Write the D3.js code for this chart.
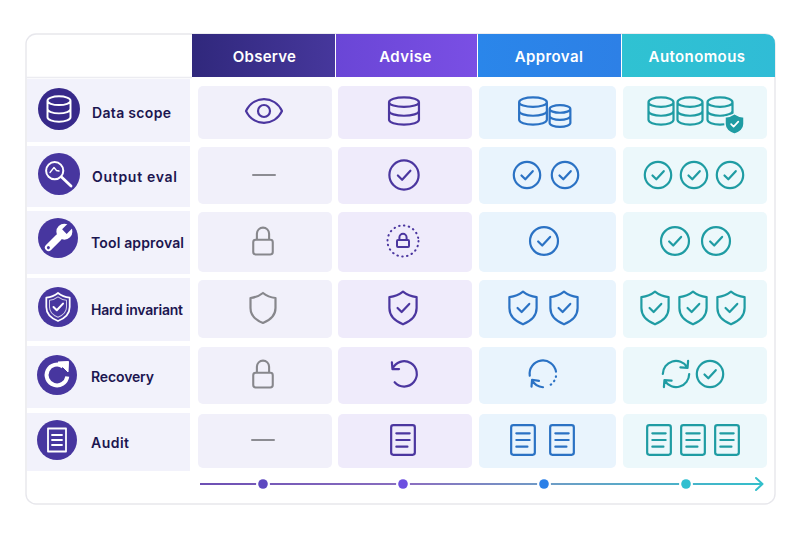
<!DOCTYPE html>
<html><head><meta charset="utf-8">
<script src="https://cdnjs.cloudflare.com/ajax/libs/d3/7.8.5/d3.min.js"></script>
<style>html,body{margin:0;padding:0;background:#fff}svg{display:block}text{font-family:Inter,"Noto Sans",sans-serif}</style>
</head><body><svg id="c" width="800" height="533"></svg>
<script>
// ---- data ----
const stages = ["Observe","Advise","Approval","Autonomous"];
const dimensions = ["Data scope","Output eval","Tool approval","Hard invariant","Recovery","Audit"];
const dimensionIcons = ["dbW","searchW","wrenchW","shieldW","refreshW","docW"];
const dataScope    = [["eye"],["db"],["dbMid","dbSmall"],["dbNarrow","dbNarrow","dbNarrow","badge"]];
const outputEval   = [["dash"],["checkXL"],["check","check"],["check","check","check"]];
const toolApproval = [["lock"],["dottedLock"],["checkLarge"],["checkLarge","checkLarge"]];
const hardInvariant= [["shieldPlain"],["shield"],["shield","shield"],["shield","shield","shield"]];
const recovery     = [["lock"],["undo"],["partialSync"],["sync","check"]];
const audit        = [["dash"],["doc"],["doc","doc"],["doc","doc","doc"]];
const grid = [dataScope,outputEval,toolApproval,hardInvariant,recovery,audit];

// ---- layout ----
const colL=[192,336,478,622], colR=[335,477,621,775];
const cellL=[198,338,479,623], cellR=[332,472,616,767];
const rowT=[79,146,211,278,346,413], rowB=[142,207,274,341,408,471];
const cellT=[86,147,212,280,347,414], cellB=[139,204,272,338,404,468];
const iconY=[111,175,241,308,374,440];
const dotX=[263,403,544,686];
const discX=[59,59,58,58,57,57], discY=[109,174,238,307,375,440], discR=[21,21,20,20,20,20];
const labelX=[92,92,91,91,91,91], labelY=[118,182,248,315,382,448], labelW=[79,85,93,92,63,38];
const xByCount={ // icon centres per row,col
 0:[[264],[404],[533,560],[661,690,720,734.5]],
 1:[[264],[404],[527,565],[658,694,730]],
 2:[[263],[403],[544],[675,716]],
 3:[[263],[403],[523,564],[655,693,731]],
 4:[[263],[404],[543],[676,710]],
 5:[[263],[403],[523,562],[659,693,727]]};
const iconScale={eye:1.5,db:1.36,dbMid:1.36,dbNarrow:1.36,dbSmall:1.08,badge:1,dash:1,check:1.2,checkLarge:1.27,checkXL:1.33,dottedLock:1,lock:1.22,shield:1.36,shieldPlain:1.25,doc:1.48,undo:1.1,partialSync:1.15,sync:1.1};
const colColor=["#4b369f","#4b369f","#2b72c4","#1f9ca3"];
const cellFill=["#f1f0fa","#efebfb","#e9f4fd","#ecf8fb"];
const headStops=[["#30287c","#46379c"],["#6a46d6","#7a4fe4"],["#2a86ea","#2d80e6"],["#2fc2d2","#30bcd6"]];

const svg=d3.select("#c"), defs=svg.append("defs");
const x0=d3.scaleOrdinal(stages,colL), x1=d3.scaleOrdinal(stages,colR);
const y0=d3.scaleOrdinal(dimensions,rowT), y1=d3.scaleOrdinal(dimensions,rowB);

function P(g,d,c,sw,extra){const p=g.append("path").attr("d",d).attr("fill","none").attr("stroke",c).attr("stroke-width",sw)
  .attr("stroke-linecap","round").attr("stroke-linejoin","round");if(extra)p.attr("stroke-dasharray",extra);return p;}
const SHIELD="M0,-12 C2.5,-10 6,-8.5 10,-8 V0 C10,6 5,10 0,12 C-5,10 -10,6 -10,0 V-8 C-6,-8.5 -2.5,-10 0,-12Z";
const dbPath=(w,h=6.5,ry=3.5)=>`M${-w},${-h} A${w},${ry} 0 1 1 ${w},${-h} A${w},${ry} 0 1 1 ${-w},${-h} V${h} A${w},${ry} 0 0 0 ${w},${h} V${-h} M${-w},0 A${w},${ry} 0 0 0 ${w},0`;
const checkGlyph=(g,c,s)=>{g.append("circle").attr("r",11).attr("fill","none").attr("stroke",c).attr("stroke-width",s);P(g,"M-4.6,0.4 L-1.4,3.6 L4.8,-3.2",c,s);};
const glyphs={
 eye(g,c,s){P(g,"M-12,0 C-7,-10.5 7,-10.5 12,0 C7,10.5 -7,10.5 -12,0Z",c,s);g.append("circle").attr("r",4).attr("fill","none").attr("stroke",c).attr("stroke-width",s);},
 db(g,c,s){P(g,dbPath(11),c,s);},
 dbMid(g,c,s){P(g,dbPath(10.2),c,s);},
 dbNarrow(g,c,s){P(g,dbPath(9.2),c,s);},
 dbSmall(g,c,s){P(g,dbPath(9.6),c,s);},
 check:checkGlyph, checkLarge:checkGlyph, checkXL:checkGlyph,
 dash(g,c,s){P(g,"M-11,0 H11","#8c8c92",s*0.9);},
 lock(g,c,s){P(g,"M-8,1 Q-8,-1 -6,-1 H6 Q8,-1 8,1 V9 Q8,11 6,11 H-6 Q-8,11 -8,9Z M-5,-1 V-6 A5,5 0 0 1 5,-6 V-1","#87878c",s*0.95);},
 dottedLock(g,c,s){g.append("circle").attr("r",15.5).attr("fill","none").attr("stroke",c).attr("stroke-width",2).attr("stroke-linecap","round").attr("stroke-dasharray","0.5 4.4");
   P(g,"M-6,0 Q-6,-1 -5,-1 H5 Q6,-1 6,0 V5 Q6,6 5,6 H-5 Q-6,6 -6,5Z M-3.6,-1 V-3.6 A3.6,3.6 0 0 1 3.6,-3.6 V-1",c,2);},
 shield(g,c,s){P(g,SHIELD,c,s);P(g,"M-4,0 L-1,3 L4.6,-3",c,s);},
 shieldPlain(g,c,s){P(g,SHIELD,"#87878c",s);},
 doc(g,c,s){P(g,"M-6.5,-10 H6.5 Q8,-10 8,-8.5 V8.5 Q8,10 6.5,10 H-6.5 Q-8,10 -8,8.5 V-8.5 Q-8,-10 -6.5,-10Z M-4.5,-4.5 H4.5 M-4.5,0 H4.5 M-4.5,4.5 H3",c,s);},
 undo(g,c,s){P(g,"M-10.5,-4.5 A11.5,11.5 0 1 1 -8.5,7.5 M-11,-10.5 L-10.5,-4.5 L-4.5,-4.5",c,s);},
 partialSync(g,c,s){P(g,"M-11.5,1.5 A11.5,11.5 0 0 1 11.3,-2",c,s);
   P(g,"M11.3,2 A11.5,11.5 0 0 1 5,10.3",c,s,"0.5 3.6");
   P(g,"M0,11.5 A11.5,11.5 0 0 1 -9.5,5.5 M-10,11 L-9.5,5 L-3.5,6",c,s);},
 sync(g,c,s){P(g,"M-12,0 A12,12 0 0 1 10,-6.5 M11,-12 L10.5,-5.5 L4,-6",c,s);P(g,"M12,0 A12,12 0 0 1 -10,6.5 M-11,12 L-10.5,5.5 L-4,6",c,s);},
 badge(g,c){g.append("path").attr("d",SHIELD).attr("transform","scale(0.95,0.85)").attr("fill",c).attr("stroke","#ecf8fb").attr("stroke-width",1.6);P(g,"M-3.4,0.2 L-0.9,2.7 L3.8,-2.4","#fff",1.7);},
 dbW(g){P(g,dbPath(10,7.2,3.8),"#fff",1.7).attr("transform","scale(1.15)");},
 searchW(g,c){g.append("circle").attr("cx",-4.3).attr("cy",-3.3).attr("r",8.6).attr("fill","none").attr("stroke","#fff").attr("stroke-width",2);
   P(g,"M2.5,3 L12,12","#fff",2.8);P(g,"M-9,-1.5 L-5,-6.5 L-2.5,-3.5 L0,-3","#fff",1.3);},
 wrenchW(g,c){const w=g.append("g").attr("transform","rotate(45)");
   w.append("rect").attr("x",-3.6).attr("y",-4).attr("width",7.2).attr("height",21).attr("rx",3.6).attr("fill","#fff");
   w.append("circle").attr("cy",-9).attr("r",8).attr("fill","#fff");
   w.append("path").attr("d","M-3.2,-18 H3.2 V-9 H-3.2Z").attr("fill",c);
   w.append("circle").attr("cy",13.6).attr("r",1.5).attr("fill",c);},
 shieldW(g){P(g,SHIELD,"#fff",1.5).attr("transform","scale(1.17)");P(g,"M-4.5,0 L-1.2,3.2 L5,-3.4","#fff",2);P(g,SHIELD,"#fff",1.2).attr("transform","scale(0.85)").attr("opacity",0.75);},
 refreshW(g){P(g,"M6,-8.5 A10.4,10.4 0 1 0 10.3,1.5","#fff",4).attr("stroke-linecap","butt");
   g.append("path").attr("d","M1,-13 L11.5,-13.5 L11,-3Z").attr("fill","#fff").attr("stroke","#fff").attr("stroke-width",1).attr("stroke-linejoin","round");},
 docW(g){P(g,"M-9,-11.5 H9 V11.5 H-9Z M-5,-5 H5 M-5,0 H5 M-5,5 H5","#fff",1.8);}
};

// card
svg.append("rect").attr("x",26).attr("y",34).attr("width",749).attr("height",470).attr("rx",10).attr("fill","#fff").attr("stroke","#e7e7ec").attr("stroke-width",1.4);
svg.append("path").attr("d","M26,77.5 H192").attr("stroke","#ececf1").attr("stroke-width",1.4);

// headers
stages.forEach((s,i)=>{
  const id="h"+i, lg=defs.append("linearGradient").attr("id",id);
  lg.append("stop").attr("offset",0).attr("stop-color",headStops[i][0]);
  lg.append("stop").attr("offset",1).attr("stop-color",headStops[i][1]);
  const l=x0(s), r=x1(s);
  const d=i==3?`M${l},34 H${r-10} Q${r},34 ${r},44 V77 H${l}Z`:`M${l},34 H${r} V77 H${l}Z`;
  svg.append("path").attr("d",d).attr("fill",`url(#${id})`);
  svg.append("text").attr("x",(l+r)/2+(i==0?1:i==1?-1:i==2?-0.5:-1.5)).attr("y",62).attr("text-anchor","middle").attr("fill","#fff")
    .attr("font-size",15).attr("font-weight",600).attr("letter-spacing",i==0?0.25:0.4).text(s);
});

// rows
dimensions.forEach((d,r)=>{
  svg.append("rect").attr("x",27).attr("y",y0(d)).attr("width",163).attr("height",y1(d)-y0(d)).attr("fill","#f2f2fb");
  const fill=r==0?"#37298a":"#47369f";
  svg.append("circle").attr("cx",discX[r]).attr("cy",discY[r]).attr("r",discR[r]).attr("fill",fill);
  const ig=svg.append("g").attr("transform",`translate(${discX[r]},${discY[r]})`);
  glyphs[dimensionIcons[r]](ig,fill);
  svg.append("text").attr("x",labelX[r]).attr("y",labelY[r]).attr("font-size",14).attr("font-weight",600).attr("fill","#1c1650")
    .attr("textLength",labelW[r]).attr("lengthAdjust","spacing").text(d);

  grid[r].forEach((icons,c)=>{
    svg.append("rect").attr("x",cellL[c]).attr("y",cellT[r]).attr("width",cellR[c]-cellL[c]).attr("height",cellB[r]-cellT[r]).attr("rx",5).attr("fill",cellFill[c]);
    icons.forEach((name,k)=>{
      const sc=iconScale[name]||1;
      let y=iconY[r];
      if(name=="dbSmall")y+=5; if(name=="badge")y+=13;
      const g=svg.append("g").attr("transform",`translate(${xByCount[r][c][k]},${y}) scale(${sc})`);
      glyphs[name](g,colColor[c],2.2/sc);
    });
  });
});

// progress
const lgp=defs.append("linearGradient").attr("id","prog").attr("gradientUnits","userSpaceOnUse").attr("x1",200).attr("x2",763).attr("y1",0).attr("y2",0);
[["0","#6d4fb4"],["0.38","#8a70c0"],["0.62","#6e9dc6"],["1","#33bfcb"]].forEach(s=>lgp.append("stop").attr("offset",s[0]).attr("stop-color",s[1]));
svg.append("path").attr("d","M200,484 H762").attr("stroke","url(#prog)").attr("stroke-width",2).attr("fill","none");
P(svg,"M756,478 L762.5,484 L756,490","#33bfcb",2);
const dotColor=["#5d48c0","#6c4fe0","#2b80e8","#2fbfd0"];
stages.forEach((s,i)=>{
  svg.append("circle").attr("cx",dotX[i]).attr("cy",484).attr("r",7).attr("fill","#fff");
  svg.append("circle").attr("cx",dotX[i]).attr("cy",484).attr("r",4.8).attr("fill",dotColor[i]);
});
</script></body></html>
